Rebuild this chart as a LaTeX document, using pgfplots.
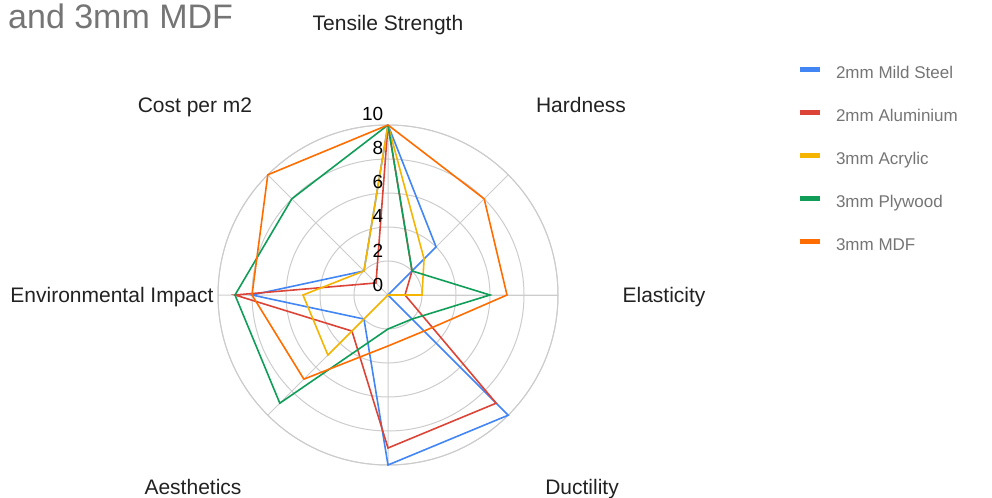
\documentclass[border=0pt]{standalone}
\usepackage{fontspec}
\setmainfont{Liberation Sans}
\usepackage{pgfplots}
\usepgfplotslibrary{polar}
\pgfplotsset{compat=1.18}
\definecolor{cBlue}{HTML}{4285F4}
\definecolor{cRed}{HTML}{DB4437}
\definecolor{cYellow}{HTML}{F4B400}
\definecolor{cGreen}{HTML}{0F9D58}
\definecolor{cOrange}{HTML}{FF6D00}
\definecolor{cGrid}{HTML}{CCCCCC}
\definecolor{cText}{HTML}{757575}
\definecolor{cLabel}{HTML}{222222}
\begin{document}
\begin{tikzpicture}
\useasboundingbox (0,0) rectangle (992bp,498bp);
\begin{polaraxis}[
  at={(388bp,203bp)}, anchor=center,
  width=340bp, height=340bp, scale only axis,
  ymin=0, ymax=10,
  xtick={0,45,...,315},
  ytick={2,4,6,8,10},
  xticklabels={}, yticklabels={},
  grid=major,
  major grid style={draw=cGrid, line width=1bp},
  axis line style={draw=cGrid, line width=1bp},
  major tick length=0pt,
  clip=false,
  every axis plot/.append style={line width=1.6bp},
  legend cell align=left,
  legend image code/.code={\draw[#1, line width=5bp] (0bp,5bp) -- (20bp,5bp);},
  legend style={at={(1.7030,1.1706)}, anchor=north west, draw=none, fill=none,
    inner sep=0pt, outer sep=0pt, row sep=28bp, column sep=14bp,
    font=\fontsize{17bp}{20bp}\selectfont\color{cText},
    nodes={inner sep=0pt, text height=12bp, text depth=3bp}},
]
\addplot[cBlue] coordinates {(90,10) (45,4) (0,0) (-45,10) (-90,10) (-135,2) (-180,8) (-225,2) (-270,10)};
\addplot[cRed] coordinates {(90,10) (45,2) (0,1) (-45,9) (-90,9) (-135,3) (-180,9) (-225,1) (-270,10)};
\addplot[cYellow] coordinates {(90,10) (45,3) (0,2) (-45,0) (-90,0) (-135,5) (-180,5) (-225,2) (-270,10)};
\addplot[cGreen] coordinates {(90,10) (45,2) (0,6) (-45,2) (-90,2) (-135,9) (-180,9) (-225,8) (-270,10)};
\addplot[cOrange] coordinates {(90,10) (45,8) (0,7) (-45,3) (-90,3) (-135,7) (-180,8) (-225,10) (-270,10)};
\legend{2mm Mild Steel, 2mm Aluminium, 3mm Acrylic, 3mm Plywood, 3mm MDF}
\pgfplotsinvokeforeach{0,2,4,6,8,10}{
  \node[anchor=base east, inner sep=0pt, xshift=-4.5bp, yshift=4bp, font=\fontsize{19bp}{22bp}\selectfont] at (axis cs:90,#1) {#1};
}
\end{polaraxis}
\begin{scope}[every node/.style={inner sep=0pt, text height=14bp, text depth=0pt, anchor=center, text=cLabel, font=\fontsize{21bp}{25bp}\selectfont}]
\node at (388bp,474bp) {Tensile Strength};
\node at (581bp,392bp) {Hardness};
\node at (664bp,202bp) {Elasticity};
\node at (582bp,11bp) {Ductility};
\node at (193bp,11bp) {Aesthetics};
\node at (112bp,202bp) {Environmental Impact};
\node at (195bp,392bp) {Cost per m2};
\end{scope}
\node[anchor=base west, inner sep=0pt, text=cText, font=\fontsize{34bp}{38bp}\selectfont] at (8bp,469bp) {and 3mm MDF};
\end{tikzpicture}
\end{document}
